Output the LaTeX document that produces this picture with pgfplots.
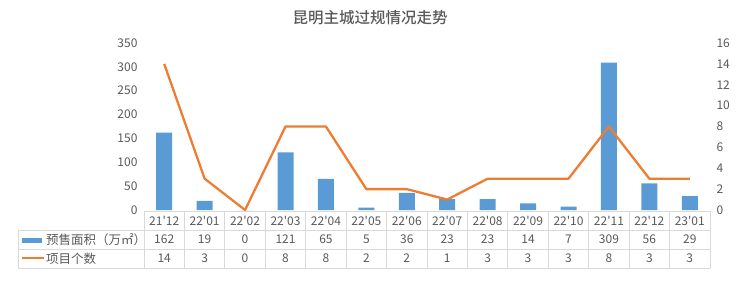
\documentclass[border=0pt]{standalone}
\usepackage{fontspec}
\newfontfamily\cjk{Noto Sans CJK SC}
\newfontfamily\cjkm{Noto Sans CJK SC}[UprightFont=* Medium]
\usepackage{pgfplots}
\pgfplotsset{compat=1.18}
\definecolor{barblue}{HTML}{5B9BD5}
\definecolor{lineorange}{HTML}{ED7D31}
\definecolor{txt}{HTML}{595959}
\definecolor{gridc}{HTML}{D9D9D9}
\begin{document}
\begin{tikzpicture}[font=\cjk]
\begin{axis}[
  at={(144pt,72pt)}, anchor=south west,
  width=566pt, height=167pt, scale only axis,
  xmin=-0.5, xmax=13.5, ymin=0, ymax=350,
  axis line style={draw=none}, major tick length=0pt,
  xtick=\empty, ytick={0,50,...,350},
  yticklabel style={text=txt, font=\cjk\fontsize{12}{12}\selectfont, xshift=-3pt},
  /pgf/number format/assume math mode=true,
  ybar, bar width=16pt, clip=false,
]
\addplot[fill=barblue, draw=none] coordinates {
(0,162) (1,19) (2,0) (3,121) (4,65) (5,5) (6,36) (7,23) (8,23) (9,14) (10,7) (11,309) (12,56) (13,29)};
\end{axis}
\begin{axis}[
  at={(144pt,72pt)}, anchor=south west,
  width=566pt, height=167pt, scale only axis,
  xmin=-0.5, xmax=13.5, ymin=0, ymax=16,
  axis line style={draw=none}, major tick length=0pt,
  xtick=\empty, ytick={0,2,...,16}, yticklabel pos=right,
  yticklabel style={text=txt, font=\cjk\fontsize{12}{12}\selectfont, xshift=3pt},
  /pgf/number format/assume math mode=true,
  clip=false,
]
\addplot[lineorange, line width=2.3pt, mark=none, line join=round] coordinates {
(0,14) (1,3) (2,0) (3,8) (4,8) (5,2) (6,2) (7,1) (8,3) (9,3) (10,3) (11,8) (12,3) (13,3)};
\end{axis}
% title
\node[text=txt, font=\cjkm\fontsize{15.5}{15.5}\selectfont] at (370pt,264.5pt) {昆明主城过规情况走势};
% table grid
\foreach \k in {0,...,14} \draw[gridc, line width=0.8pt] ({144pt+40.4286pt*\k},71pt) -- ({144pt+40.4286pt*\k},14pt);
\draw[gridc, line width=0.8pt] (144pt,71pt) -- (710pt,71pt);
\draw[gridc, line width=0.8pt] (18pt,52pt) -- (710pt,52pt);
\draw[gridc, line width=0.8pt] (18pt,33pt) -- (710pt,33pt);
\draw[gridc, line width=0.8pt] (18pt,14pt) -- (710pt,14pt);
\draw[gridc, line width=0.8pt] (18pt,52pt) -- (18pt,14pt);
% table text
\foreach \lab [count=\i from 0] in {21'12,22'01,22'02,22'03,22'04,22'05,22'06,22'07,22'08,22'09,22'10,22'11,22'12,23'01}
  \node[text=txt, font=\cjk\fontsize{12}{12}\selectfont] at ({144pt+40.4286pt*(\i+0.5)},61.5pt) {\lab};
\foreach \v [count=\i from 0] in {162,19,0,121,65,5,36,23,23,14,7,309,56,29}
  \node[text=txt, font=\cjk\fontsize{12}{12}\selectfont] at ({144pt+40.4286pt*(\i+0.5)},42.5pt) {\v};
\foreach \v [count=\i from 0] in {14,3,0,8,8,2,2,1,3,3,3,8,3,3}
  \node[text=txt, font=\cjk\fontsize{12}{12}\selectfont] at ({144pt+40.4286pt*(\i+0.5)},23.5pt) {\v};
% legend
\fill[barblue] (22pt,39.5pt) rectangle (42pt,44.5pt);
\draw[lineorange, line width=2pt] (22pt,23.7pt) -- (44pt,23.7pt);
\node[text=txt, anchor=west, inner sep=0pt, font=\cjk\fontsize{12.5}{12.5}\selectfont] at (46pt,42.5pt) {预售面积（万㎡）};
\node[text=txt, anchor=west, inner sep=0pt, font=\cjk\fontsize{12.5}{12.5}\selectfont] at (46pt,23.5pt) {项目个数};
\pgfresetboundingbox
\useasboundingbox (0pt,0pt) rectangle (740pt,282pt);
\end{tikzpicture}
\end{document}
